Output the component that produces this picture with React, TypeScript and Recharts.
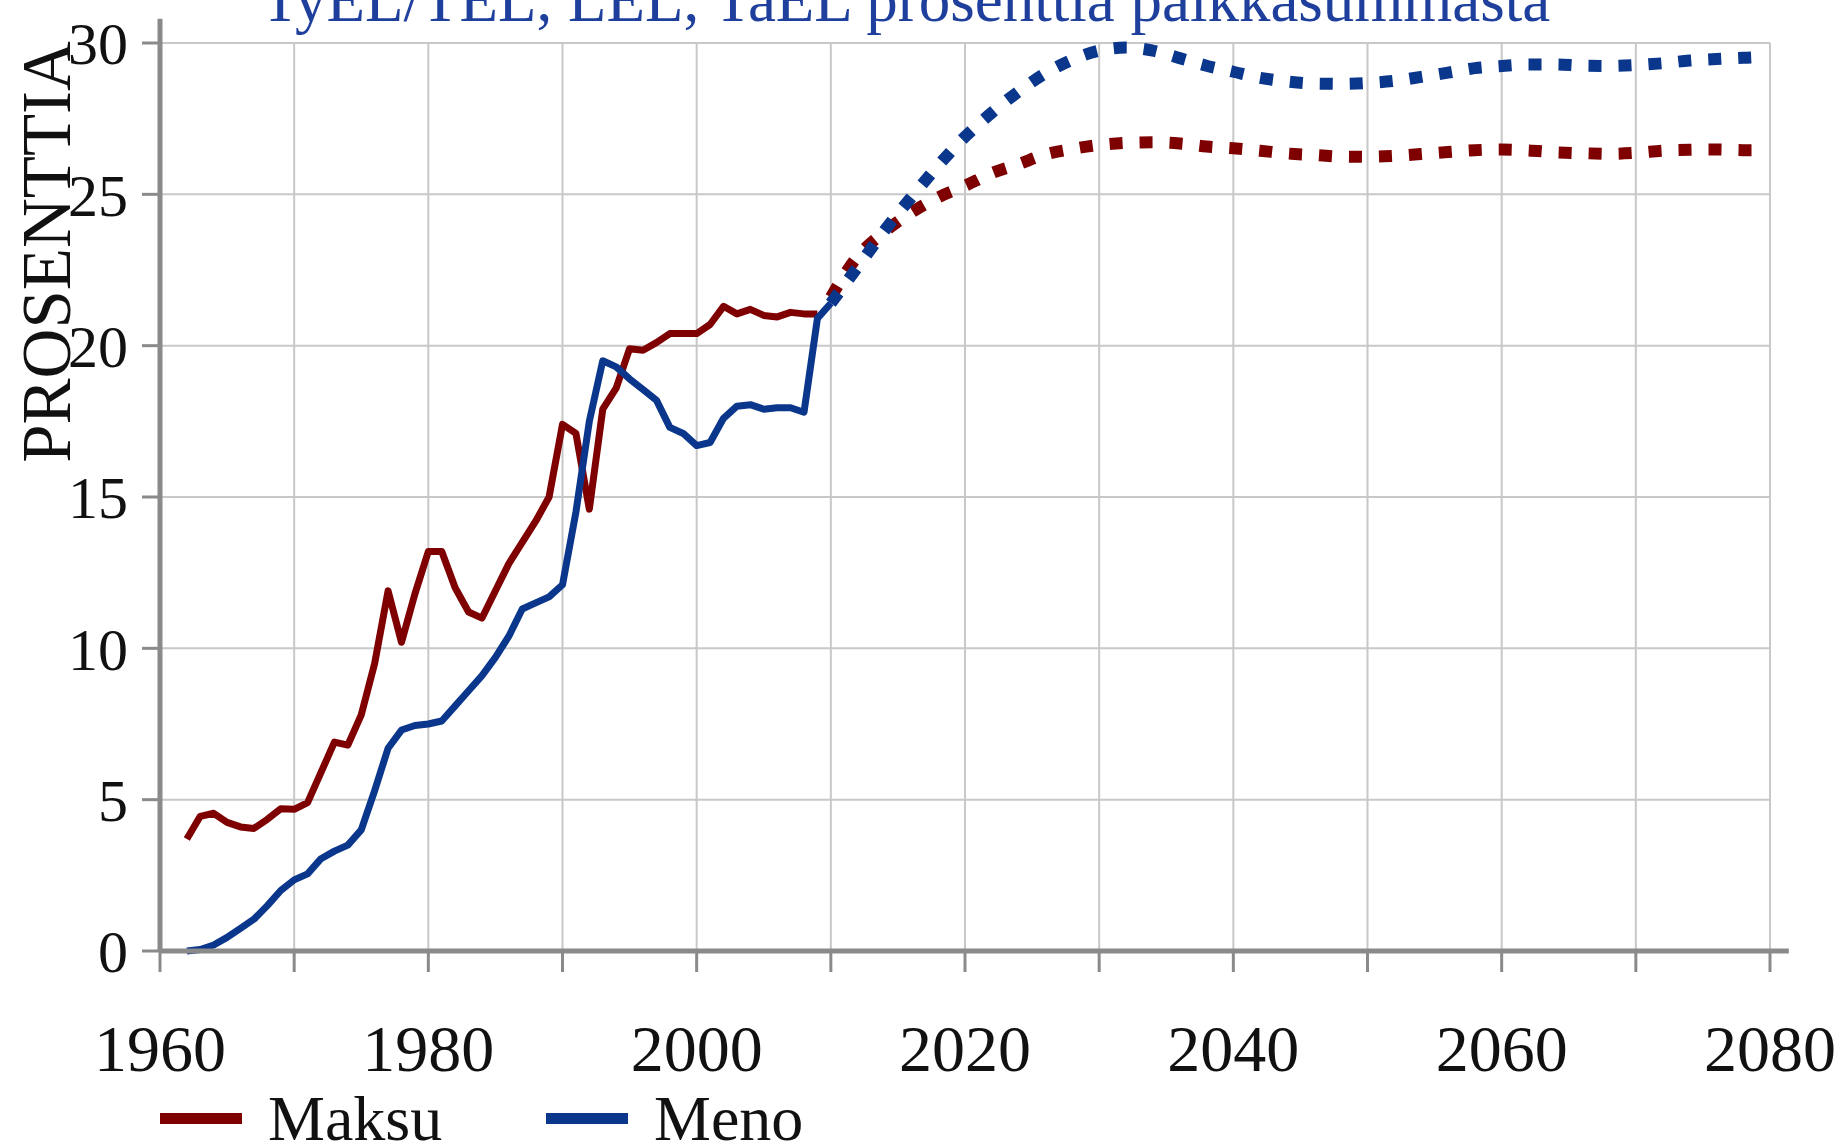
import React from "react";
import { LineChart, Line, XAxis, YAxis, CartesianGrid, ReferenceLine } from "recharts";

const W = 1842;
const H = 1143;
const FONT = "'Liberation Serif', 'Times New Roman', serif";
const RED = "#7e0000";
const BLUE = "#0a378c";
const AXIS = "#8a8a8a";

// toteutunut 1962-2010
const histYears = [
  1962, 1963, 1964, 1965, 1966, 1967, 1968, 1969, 1970, 1971, 1972, 1973, 1974, 1975, 1976, 1977,
  1978, 1979, 1980, 1981, 1982, 1983, 1984, 1985, 1986, 1987, 1988, 1989, 1990, 1991, 1992, 1993,
  1994, 1995, 1996, 1997, 1998, 1999, 2000, 2001, 2002, 2003, 2004, 2005, 2006, 2007, 2008, 2009,
  2010,
];
const maksuHist = [
  3.7, 4.45, 4.55, 4.25, 4.1, 4.05, 4.35, 4.7, 4.68, 4.9, 5.9, 6.9, 6.8, 7.8, 9.5, 11.9,
  10.2, 11.8, 13.2, 13.2, 12.0, 11.2, 11.0, 11.9, 12.8, 13.5, 14.2, 15.0, 17.4, 17.1, 14.6, 17.9,
  18.6, 19.9, 19.85, 20.1, 20.4, 20.4, 20.4, 20.7, 21.3, 21.05, 21.2, 21.0, 20.95, 21.1, 21.05, 21.05,
  null,
];
const menoHist = [
  0.0, 0.05, 0.2, 0.45, 0.75, 1.05, 1.5, 2.0, 2.35, 2.55, 3.05, 3.3, 3.5, 4.0, 5.3, 6.7,
  7.3, 7.45, 7.5, 7.6, 8.1, 8.6, 9.1, 9.7, 10.4, 11.3, 11.5, 11.7, 12.1, 14.5, 17.5, 19.5,
  19.3, 18.9, 18.55, 18.2, 17.3, 17.1, 16.7, 16.8, 17.6, 18.0, 18.05, 17.9, 17.95, 17.95, 17.8, 20.9,
  21.4,
];

// ennuste 2010-2079
const projYears = [
  2010, 2012, 2014, 2016, 2018, 2020, 2022, 2024, 2026, 2028, 2030, 2032, 2034, 2036, 2038, 2040,
  2042, 2044, 2046, 2048, 2050, 2052, 2054, 2056, 2058, 2060, 2062, 2064, 2066, 2068, 2070, 2072,
  2074, 2076, 2078, 2079,
];
const maksuProj = [
  21.6, 22.95, 23.76, 24.4, 24.9, 25.28, 25.7, 26.0, 26.32, 26.5, 26.63, 26.7, 26.72, 26.68, 26.58, 26.52,
  26.44, 26.35, 26.3, 26.25, 26.24, 26.27, 26.33, 26.4, 26.46, 26.48, 26.45, 26.39, 26.36, 26.34, 26.37, 26.44,
  26.47, 26.48, 26.46, 26.46,
];
const menoProj = [
  21.4, 22.6, 23.8, 24.9, 25.95, 26.9, 27.7, 28.4, 29.0, 29.45, 29.75, 29.85, 29.75, 29.5, 29.25, 29.05,
  28.85, 28.73, 28.66, 28.65, 28.68, 28.75, 28.88, 29.02, 29.17, 29.24, 29.29, 29.29, 29.25, 29.24, 29.27, 29.33,
  29.42, 29.47, 29.51, 29.53,
];

const xTicks = [1960, 1970, 1980, 1990, 2000, 2010, 2020, 2030, 2040, 2050, 2060, 2070, 2080];
const yTicks = [0, 5, 10, 15, 20, 25, 30];

const title = "TyEL/TEL, LEL, TaEL prosenttia palkkasummasta";
const yLabel = "PROSENTTIA";
const legendItems = [
  { name: "Maksu", color: RED },
  { name: "Meno", color: BLUE },
];

type Row = { year: number; maksu?: number | null; meno?: number | null; maksuP?: number; menoP?: number };

const rows: Row[] = [];
histYears.forEach((y, i) => rows.push({ year: y, maksu: maksuHist[i], meno: menoHist[i] }));
projYears.forEach((y, i) => {
  const r = rows.find((d) => d.year === y);
  if (r) {
    r.maksuP = maksuProj[i];
    r.menoP = menoProj[i];
  } else {
    rows.push({ year: y, maksuP: maksuProj[i], menoP: menoProj[i] });
  }
});

const XTick = (props: any) => {
  const { x, y, payload } = props;
  if (payload.value % 20 !== 0) return null;
  return (
    <text x={x} y={y + 99} textAnchor="middle" fontSize={66} fontFamily={FONT} fill="#111">
      {payload.value}
    </text>
  );
};

export default function App() {
  return (
    <div style={{ position: "absolute", left: 0, top: 0, width: W, height: H, background: "#fff", overflow: "hidden" }}>
      <LineChart width={W} height={H} data={rows} margin={{ top: 43, right: 72, bottom: 162, left: 0 }}>
        <CartesianGrid stroke="#c8c8c8" strokeWidth={2} />
        <XAxis
          dataKey="year"
          type="number"
          domain={[1960, 2080]}
          ticks={xTicks}
          interval={0}
          tick={<XTick />}
          tickSize={21}
          tickMargin={0}
          axisLine={{ stroke: AXIS, strokeWidth: 5 }}
          tickLine={{ stroke: AXIS, strokeWidth: 3 }}
          allowDataOverflow
        />
        <YAxis
          type="number"
          domain={[0, 30]}
          ticks={yTicks}
          interval={0}
          width={160}
          tickSize={18}
          tickMargin={14}
          tick={{ fontSize: 60, fontFamily: FONT, fill: "#111" }}
          axisLine={{ stroke: AXIS, strokeWidth: 5 }}
          tickLine={{ stroke: AXIS, strokeWidth: 3 }}
        />
        <ReferenceLine
          segment={[{ x: 1960, y: 30 }, { x: 1960, y: 30.8 }]}
          stroke={AXIS}
          strokeWidth={5}
          ifOverflow="visible"
        />
        <ReferenceLine
          segment={[{ x: 2080, y: 0 }, { x: 2081.4, y: 0 }]}
          stroke={AXIS}
          strokeWidth={5}
          ifOverflow="visible"
        />
        <Line dataKey="maksuP" stroke={RED} strokeWidth={12} strokeDasharray="13 17" dot={false} type="monotone" isAnimationActive={false} />
        <Line dataKey="menoP" stroke={BLUE} strokeWidth={12} strokeDasharray="13 17" dot={false} type="monotone" isAnimationActive={false} />
        <Line dataKey="maksu" stroke={RED} strokeWidth={7} dot={false} type="linear" strokeLinejoin="round" isAnimationActive={false} />
        <Line dataKey="meno" stroke={BLUE} strokeWidth={7} dot={false} type="linear" strokeLinejoin="round" isAnimationActive={false} />
      </LineChart>
      <svg width={W} height={H} style={{ position: "absolute", left: 0, top: 0, pointerEvents: "none" }}>
        <text x={261} y={21} fontSize={63} fontFamily={FONT} fill="#1f3f9c">
          {title}
        </text>
        <text
          x={0}
          y={0}
          transform="translate(70,252) rotate(-90)"
          textAnchor="middle"
          fontSize={69}
          fontFamily={FONT}
          fill="#111"
        >
          {yLabel}
        </text>
        {legendItems.map((it, i) => {
          const x0 = 160 + i * 386;
          return (
            <g key={it.name}>
              <rect x={x0} y={1113} width={82} height={11} fill={it.color} />
              <text x={x0 + 108} y={1140} fontSize={64} fontFamily={FONT} fill="#111">
                {it.name}
              </text>
            </g>
          );
        })}
      </svg>
    </div>
  );
}
